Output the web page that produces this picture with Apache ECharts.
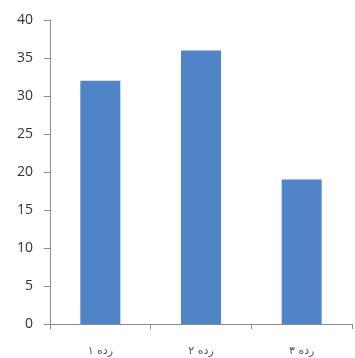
<!DOCTYPE html>
<html>
<head>
<meta charset="utf-8">
<script src="https://cdn.jsdelivr.net/npm/echarts@6/dist/echarts.min.js"></script>
<style>html,body{margin:0;padding:0;background:#fff;}#c{width:355px;height:358px;}</style>
</head>
<body>
<div id="c"></div>
<script>
const categories = ['رده ۱', 'رده ۲', 'رده ۳'];
const values = [32, 36, 19];
const yTicks = [0, 5, 10, 15, 20, 25, 30, 35, 40];

const chart = echarts.init(document.getElementById('c'));
chart.setOption({
  animation: false,
  grid: { left: 50, right: 3, top: 20, bottom: 34, containLabel: false },
  xAxis: {
    type: 'category',
    data: categories,
    axisLine: { lineStyle: { color: '#8a8a8a', width: 1 } },
    axisTick: { show: true, length: 5, lineStyle: { color: '#8a8a8a' } },
    axisLabel: { color: '#555', fontSize: 11, fontFamily: 'DejaVu Sans', margin: 22 }
  },
  yAxis: {
    type: 'value',
    min: yTicks[0],
    max: yTicks[yTicks.length - 1],
    interval: 5,
    axisLine: { show: true, lineStyle: { color: '#8a8a8a', width: 1 } },
    axisTick: { show: true, length: 6, lineStyle: { color: '#8a8a8a' } },
    splitLine: { show: false },
    axisLabel: { color: '#333', fontSize: 14, fontFamily: 'Open Sans', margin: 17 }
  },
  series: [{
    type: 'bar',
    data: values,
    barWidth: 40,
    itemStyle: { color: '#4F84C6' }
  }]
});
</script>
</body>
</html>
